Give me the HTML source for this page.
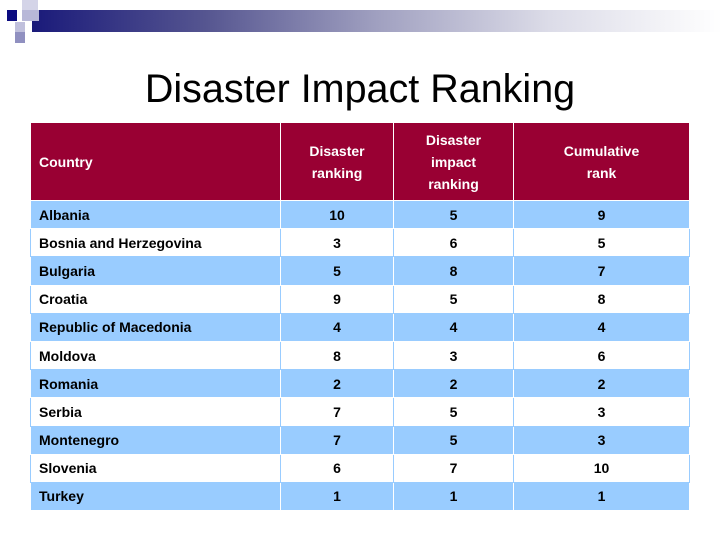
<!DOCTYPE html>
<html><head><style>
body{margin:0;width:720px;height:540px;background:#fff;position:relative;overflow:hidden;font-family:"Liberation Sans",sans-serif}
.a{position:absolute}
table{position:absolute;left:30px;top:122px;width:660px;border-collapse:collapse;font-weight:bold;font-size:14px;color:#000}
td{border:1px solid #fff;height:27.2px;padding:0;text-align:center}
td:first-child{text-align:left;padding-left:8px}
tr.h td{background:#990033;color:#fff;height:77px;line-height:22px;font-size:14px}
tr.b td{background:#99ccff}
tr.w td{background:#fff;border-color:#99ccff}
</style></head><body>
<div class="a" style="left:32px;top:10px;width:690px;height:22px;background:linear-gradient(90deg,#1a1a7a 0%,#555590 25%,#a0a0c0 50%,#dcdce8 75%,#fff 100%)"></div>
<div class="a" style="left:7px;top:10px;width:10px;height:11px;background:#0b0b80"></div>
<div class="a" style="left:22px;top:0px;width:16px;height:10px;background:#d4d4e8"></div>
<div class="a" style="left:22px;top:10px;width:17px;height:11px;background:#b8b8d8"></div>
<div class="a" style="left:15px;top:22px;width:10px;height:12px;background:#c0c0dc"></div>
<div class="a" style="left:15px;top:32px;width:10px;height:11px;background:#9090c0"></div>
<div class="a" style="left:0;width:720px;text-align:center;top:67px;font-size:39.5px;color:#000">Disaster Impact Ranking</div>
<table>
<colgroup><col style="width:250px"><col style="width:113px"><col style="width:120px"><col></colgroup>
<tr class="h"><td>Country</td><td>Disaster<br>ranking</td><td>Disaster<br>impact<br>ranking</td><td>Cumulative<br>rank</td></tr>
<tr class="b"><td>Albania</td><td>10</td><td>5</td><td>9</td></tr>
<tr class="w"><td>Bosnia and Herzegovina</td><td>3</td><td>6</td><td>5</td></tr>
<tr class="b"><td>Bulgaria</td><td>5</td><td>8</td><td>7</td></tr>
<tr class="w"><td>Croatia</td><td>9</td><td>5</td><td>8</td></tr>
<tr class="b"><td>Republic of Macedonia</td><td>4</td><td>4</td><td>4</td></tr>
<tr class="w"><td>Moldova</td><td>8</td><td>3</td><td>6</td></tr>
<tr class="b"><td>Romania</td><td>2</td><td>2</td><td>2</td></tr>
<tr class="w"><td>Serbia</td><td>7</td><td>5</td><td>3</td></tr>
<tr class="b"><td>Montenegro</td><td>7</td><td>5</td><td>3</td></tr>
<tr class="w"><td>Slovenia</td><td>6</td><td>7</td><td>10</td></tr>
<tr class="b"><td>Turkey</td><td>1</td><td>1</td><td>1</td></tr>
</table>
</body></html>
